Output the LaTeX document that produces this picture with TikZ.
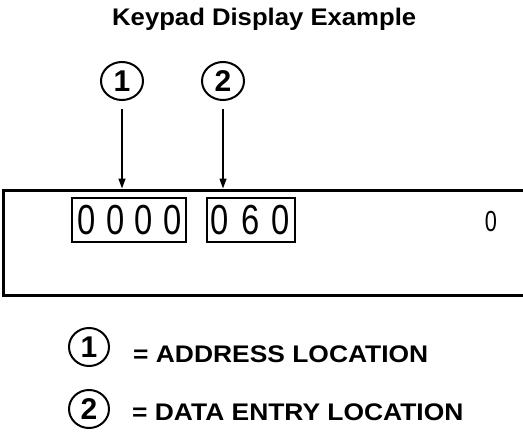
\documentclass[tikz,border=0pt]{standalone}
\usepackage{fontspec}
\setmainfont{Liberation Sans}
\usetikzlibrary{arrows.meta,shapes.geometric}
\begin{document}
\begin{tikzpicture}[x=1pt,y=-1pt,
  callout/.style={draw,line width=2pt,ellipse,minimum width=42pt,minimum height=38pt,inner sep=0pt,font=\fontsize{30}{30}\selectfont\bfseries},
  legendtext/.style={anchor=base west,inner sep=0pt,font=\fontsize{24}{25}\selectfont\bfseries},
  digitbox/.style={draw,line width=1.1pt,minimum height=44pt,inner sep=0pt},
  digit/.style={inner sep=0pt,font=\fontsize{42}{42}\selectfont},
  pointer/.style={line width=1.5pt,-{Triangle[length=10pt,width=7pt]}}
]
\useasboundingbox (0,0) rectangle (523,439);
% title
\node[anchor=base west,inner sep=0pt,font=\fontsize{24}{25}\selectfont\bfseries] (title) at (112,25) {\scalebox{1.07}[1]{Keypad Display Example}};
% callouts
\node[callout] (c1) at (122,81) {1};
\node[callout] (c2) at (223,81) {2};
% display frame
\draw[line width=3pt,line join=miter] (525,190) -- (3.5,190) -- (3.5,295) -- (525,295);
\coordinate (a1) at (122,188.5);
\coordinate (a2) at (223,188.5);
\draw[pointer,shorten <=8pt] (c1.south) -- (a1);
\draw[pointer,shorten <=8pt] (c2.south) -- (a2);
% digit boxes
\node[digitbox,minimum width=114pt] (addr) at (129,220) {};
\node[digitbox,minimum width=88pt] (data) at (251,220) {};
\node[digit] (d1) at (86.5,220) {\scalebox{0.78}[1]{0}};
\node[digit] (d2) at (115.2,220) {\scalebox{0.78}[1]{0}};
\node[digit] (d3) at (143.9,220) {\scalebox{0.78}[1]{0}};
\node[digit] (d4) at (172.6,220) {\scalebox{0.78}[1]{0}};
\node[digit] (e1) at (220,220) {\scalebox{0.78}[1]{0}};
\node[digit] (e2) at (250.3,220) {\scalebox{0.78}[1]{6}};
\node[digit] (e3) at (280.5,220) {\scalebox{0.78}[1]{0}};
\node[inner sep=0pt,font=\fontsize{29}{29}\selectfont] (small) at (491,222) {\scalebox{0.75}[1]{0}};
% legend
\node[callout,minimum width=40pt] (l1) at (89,347) {1};
\node[callout,minimum width=40pt] (l2) at (89,409) {2};
\node[legendtext] (t1) at (133,362) {\scalebox{1.1}[1]{= ADDRESS LOCATION}};
\node[legendtext] (t2) at (132,420) {\scalebox{1.1}[1]{= DATA ENTRY LOCATION}};
\end{tikzpicture}
\end{document}
